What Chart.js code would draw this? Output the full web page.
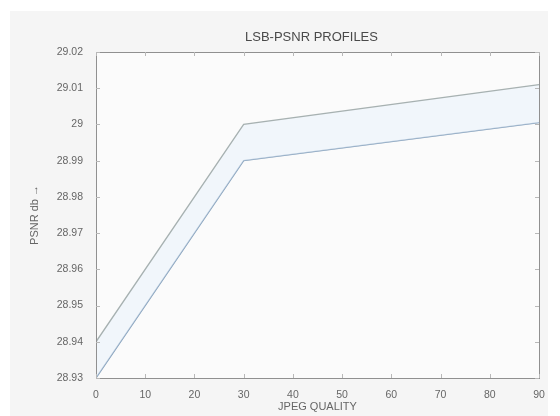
<!DOCTYPE html>
<html>
<head>
<meta charset="utf-8">
<script src="https://cdn.jsdelivr.net/npm/chart.js@4.4.1/dist/chart.umd.min.js"></script>
<style>
  html, body { margin: 0; padding: 0; background: #ffffff; }
  #wrap { width: 560px; height: 416px; position: relative; }
</style>
</head>
<body>
<div id="wrap"><canvas id="chart"></canvas></div>
<script>
// --- Data ---
const quality = [0, 30, 90];
const upperPsnr = [28.94, 29.0, 29.011];
const lowerPsnr = [28.93, 28.99, 29.0005];
const xTicks = [0, 10, 20, 30, 40, 50, 60, 70, 80, 90];
const yTicks = [28.93, 28.94, 28.95, 28.96, 28.97, 28.98, 28.99, 29.0, 29.01, 29.02];
const chartTitle = "LSB-PSNR PROFILES";

const toPoints = (ys) => quality.map((q, i) => ({ x: q, y: ys[i] }));
const fontFamily = "Liberation Sans, Arial, sans-serif";

// --- Background, box, ticks and title (centred on the plot, matlab style) ---
const frame = {
  id: "frame",
  beforeDraw(chart) {
    const ctx = chart.ctx;
    const a = chart.chartArea;
    ctx.save();
    ctx.fillStyle = "#f5f5f5";
    ctx.fillRect(10, 11, 538, 405);
    ctx.fillStyle = "#fbfbfb";
    ctx.fillRect(a.left, a.top, a.right - a.left, a.bottom - a.top);
    ctx.restore();
  },
  afterDraw(chart) {
    const ctx = chart.ctx;
    const a = chart.chartArea;
    const xs = chart.scales.x;
    const ys = chart.scales.y;
    ctx.save();
    ctx.strokeStyle = "#909090";
    ctx.lineWidth = 1;
    ctx.strokeRect(a.left + 0.5, a.top + 0.5, a.right - a.left, a.bottom - a.top);
    ctx.strokeStyle = "#b8b8b8";
    ctx.beginPath();
    xTicks.forEach((v) => {
      const px = Math.round(xs.getPixelForValue(v)) + 0.5;
      ctx.moveTo(px, a.bottom); ctx.lineTo(px, a.bottom - 4);
      ctx.moveTo(px, a.top); ctx.lineTo(px, a.top + 4);
    });
    yTicks.forEach((v) => {
      const py = Math.round(ys.getPixelForValue(v)) + 0.5;
      ctx.moveTo(a.left, py); ctx.lineTo(a.left + 4, py);
      ctx.moveTo(a.right, py); ctx.lineTo(a.right - 4, py);
    });
    ctx.stroke();

    ctx.fillStyle = "#4a4a4a";
    ctx.font = "13px " + fontFamily;
    ctx.textAlign = "center";
    ctx.textBaseline = "middle";
    ctx.fillText(chartTitle, (a.left + a.right) / 2 - 6, 37);
    ctx.restore();
  },
};

const tickFont = { family: fontFamily, size: 10.5 };

new Chart(document.getElementById("chart"), {
  type: "line",
  data: {
    datasets: [
      {
        label: "upper",
        data: toPoints(upperPsnr),
        borderColor: "#a7b1b1",
        borderWidth: 1.3,
        pointRadius: 0,
        fill: "+1",
        backgroundColor: "rgba(232, 242, 252, 0.5)",
        tension: 0,
      },
      {
        label: "lower",
        data: toPoints(lowerPsnr),
        borderColor: "#809cb8",
        borderWidth: 1.3,
        pointRadius: 0,
        fill: false,
        tension: 0,
      },
    ],
  },
  options: {
    responsive: true,
    maintainAspectRatio: false,
    animation: false,
    layout: { padding: { top: 52, right: 21, left: 0, bottom: 0 } },
    plugins: {
      legend: { display: false },
      tooltip: { enabled: false },
      title: { display: false },
    },
    scales: {
      x: {
        type: "linear",
        min: 0,
        max: 90,
        afterFit: (s) => { s.height = 38; },
        afterBuildTicks: (s) => { s.ticks = xTicks.map((v) => ({ value: v })); },
        grid: { display: false },
        border: { display: false },
        ticks: { color: "#666666", font: tickFont, padding: 3, maxRotation: 0 },
        title: {
          display: true,
          text: "JPEG QUALITY",
          color: "#666666",
          font: { family: fontFamily, size: 11 },
          padding: { top: 0, bottom: 2 },
        },
      },
      y: {
        type: "linear",
        min: 28.93,
        max: 29.02,
        afterFit: (s) => { s.width = 96; },
        afterBuildTicks: (s) => { s.ticks = yTicks.map((v) => ({ value: v })); },
        grid: { display: false },
        border: { display: false },
        ticks: {
          color: "#666666",
          font: tickFont,
          padding: 5,
          callback: (v) => String(Number(v.toFixed(2))),
        },
        title: {
          display: true,
          text: "PSNR db →",
          color: "#666666",
          font: { family: fontFamily, size: 11 },
          padding: { top: 28, bottom: 0 },
        },
      },
    },
  },
  plugins: [frame],
});
</script>
</body>
</html>
